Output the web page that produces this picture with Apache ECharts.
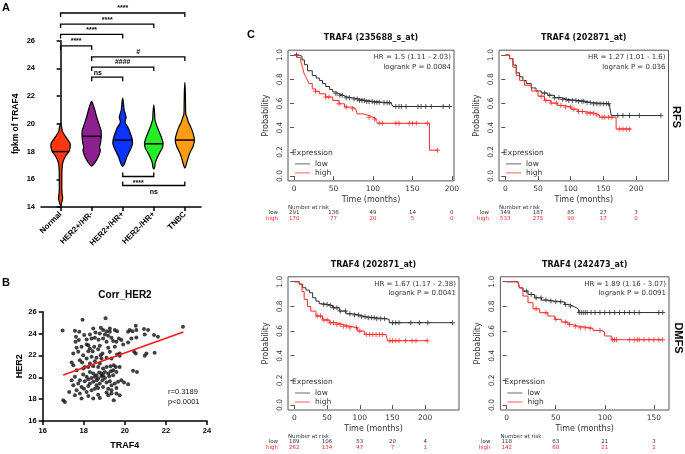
<!DOCTYPE html>
<html>
<head>
<meta charset="utf-8">
<script src="https://cdn.jsdelivr.net/npm/echarts@6/dist/echarts.min.js"></script>
<style>
  html, body { margin: 0; padding: 0; background: #fff; }
  #chart { width: 685px; height: 454px; }
</style>
</head>
<body>
<div id="chart"></div>
<script>
// ---- panel A: violin data (value, relative width) ----
const groups = ['Normal', 'HER2+/HR-', 'HER2+/HR+', 'HER2-/HR+', 'TNBC'];
const violinNormal = [[14.1,0],[14.35,0.13],[14.65,0.22],[15.0,0.15],[15.5,0.13],[16.5,0.14],[17.0,0.18],[17.35,0.3],[17.7,0.55],[18.0,0.88],[18.35,1.0],[18.6,0.98],[18.9,0.7],[19.1,0.5],[19.45,0.2],[19.8,0.1],[20.05,0]];
const violinHer2pHrn = [[16.94,0],[17.1,0.22],[17.4,0.52],[17.77,0.78],[18.1,0.9],[18.3,0.82],[18.6,0.92],[19.1,1.0],[19.5,0.98],[19.8,0.85],[20.2,0.66],[20.55,0.5],[21.0,0.33],[21.3,0.2],[21.62,0]];
const violinHer2pHrp = [[16.94,0],[17.2,0.22],[17.65,0.45],[18.0,0.7],[18.5,1.0],[18.85,1.0],[19.2,0.85],[19.7,0.58],[20.05,0.28],[20.2,0.25],[20.45,0.35],[20.7,0.28],[21.0,0.15],[21.5,0.08],[21.85,0]];
const violinHer2nHrp = [[16.74,0],[16.9,0.1],[17.17,0.15],[17.5,0.32],[17.9,0.6],[18.25,0.88],[18.56,0.97],[18.8,0.9],[19.1,0.75],[19.57,0.48],[19.93,0.28],[20.3,0.12],[20.8,0.08],[21.37,0]];
const violinTnbc = [[16.8,0],[17.0,0.12],[17.4,0.28],[17.9,0.52],[18.37,0.85],[18.83,1.0],[19.33,0.85],[19.8,0.6],[20.1,0.38],[20.4,0.25],[20.7,0.1],[21.5,0.07],[22.3,0.05],[23.0,0]];
const medians = [18.0, 19.1, 18.83, 18.56, 18.83];

// significance brackets
const bracketFrom  = [0, 0, 0, 0, 1, 1, 1, 2, 2];
const bracketTo    = [4, 3, 2, 1, 4, 3, 2, 3, 4];
const bracketLevel = [28.0, 27.2, 26.45, 25.62, 24.83, 24.1, 23.37, 16.2, 15.55];
const bracketLabel = ['****', '****', '****', '****', '#', '####', 'ns', '****', 'ns'];
const bracketTextAt = [2, 1.5, 1, 0.5, 2.5, 2, 1.2, 2.5, 3];
const bracketBelow = [false, false, false, false, false, false, false, true, true];

// ---- panel B: scatter ----
const traf4 = [17.94,19.06,16.97,17.57,17.78,18.46,18.83,18.94,19.11,19.27,19.51,19.62,20.16,20.24,20.37,20.53,20.56,20.93,21.13,21.42,21.61,22.83,
  17.62,18.02,18.30,18.57,18.78,19.03,19.19,19.35,19.71,19.83,20.32,20.56,20.97,17.60,17.76,18.14,18.38,18.54,18.72,19.11,19.43,19.59,20.16,
  17.65,17.89,18.14,18.30,18.51,18.78,19.19,19.51,19.92,17.49,17.73,17.97,18.22,18.43,18.70,18.91,19.27,19.62,19.75,20.45,20.53,20.97,21.05,21.45,
  17.41,17.49,17.81,18.14,18.38,18.62,18.82,19.11,19.35,19.75,17.92,18.30,18.54,18.78,17.65,17.97,18.22,18.46,18.70,18.94,19.11,19.30,19.46,19.56,20.40,20.59,
  17.41,17.57,17.97,18.30,18.46,18.62,18.75,18.86,19.03,19.19,19.32,19.43,19.59,17.49,17.73,18.05,18.22,18.38,18.54,18.70,18.86,19.03,19.24,19.43,19.83,19.96,20.16,
  17.29,17.65,17.89,18.01,18.22,18.30,18.46,18.62,18.78,18.91,19.11,19.27,19.51,19.67,17.57,17.81,18.14,18.38,18.54,18.70,18.94,19.19,19.35,19.59,
  17.89,18.22,18.46,18.70,19.11,19.19,19.35,19.59,17.00,17.08,18.78,19.46,19.75,
  18.14,18.94,17.81,18.62,19.35,18.05,19.75,18.86,18.22,18.94,19.27];
const her2 = [25.26,25.39,24.29,24.26,24.16,24.47,24.53,24.32,24.22,24.16,24.32,24.22,24.16,24.32,24.22,24.71,24.32,24.41,24.32,23.86,23.71,24.62,
  23.71,23.86,23.92,24.10,24.01,23.92,23.80,23.61,23.55,23.40,23.55,23.64,23.92,23.25,23.40,23.46,23.55,23.61,23.43,23.25,23.31,23.25,23.18,
  22.70,22.79,23.00,22.63,22.79,22.88,22.70,22.79,23.00,22.18,22.33,22.02,22.39,22.39,22.57,22.18,22.33,22.08,22.18,22.33,22.18,21.96,22.18,22.24,
  21.35,21.11,21.56,21.72,21.87,21.78,22.02,21.78,21.72,21.96,21.35,21.26,21.47,21.26,20.65,20.80,20.95,21.01,20.95,20.80,20.95,21.01,21.11,20.95,20.59,20.49,
  19.73,20.04,20.25,20.49,20.34,20.19,20.43,20.34,20.49,20.34,20.55,20.65,20.49,19.27,19.42,19.64,19.82,19.94,20.04,19.88,20.10,19.94,20.10,20.19,19.73,19.52,19.36,
  18.66,18.81,19.12,18.96,19.21,19.42,19.58,19.27,19.42,19.73,19.52,19.64,19.42,19.58,18.35,18.51,18.66,18.81,18.96,19.03,19.12,18.96,18.81,19.03,
  18.05,18.29,18.05,18.41,18.60,18.35,18.51,18.51,17.89,17.74,18.11,17.89,18.35,
  20.04,20.19,19.73,19.73,19.27,20.95,20.95,21.72,22.94,23.55,24.47];
const fitX = [17.0, 22.85];
const fitY = [20.2, 24.15];

// ---- panel C: Kaplan-Meier curves [months, probability] ----
const km1Low = [[0,1],[6,0.99],[10,0.96],[13,0.92],[17,0.87],[23,0.83],[28,0.81],[32,0.79],[36,0.765],[40,0.74],[45,0.715],[49,0.695],[53,0.68],[57,0.667],[62,0.655],[66,0.647],[74,0.636],[83,0.625],[91,0.617],[100,0.61],[112,0.605],[123,0.597],[125,0.575],[197,0.575]];
const km1High = [[0,1],[4,0.98],[8.5,0.944],[10.6,0.9],[12.5,0.85],[14.8,0.82],[17,0.79],[19,0.764],[23,0.72],[27,0.7],[32,0.68],[40,0.653],[49,0.625],[57,0.597],[64,0.57],[74,0.556],[78,0.54],[80,0.514],[87,0.5],[95,0.486],[100,0.472],[104,0.453],[106,0.436],[171.6,0.214],[182,0.214]];
const km1LowCens = [3,53,58,61,66,70,76,80,83,86,89,92,95,99,102,105,108,114,118,121,129,133,136,142,157,161,167,174,189,197];
const km1HighCens = [27,40,44,57,66,74,95,102,108,112,129,133,146,150,155,169,182];

const km2Low = [[0,1],[6.6,0.97],[11.7,0.917],[16.8,0.853],[21.9,0.82],[27,0.79],[32,0.764],[39.7,0.728],[47,0.703],[55,0.686],[65,0.667],[75,0.647],[85.5,0.633],[95.7,0.625],[111,0.619],[121,0.608],[131,0.597],[159,0.592],[162,0.5],[238,0.5]];
const km2High = [[0,1],[6.6,0.97],[11.7,0.9],[16.8,0.83],[22,0.79],[29.5,0.75],[40,0.703],[50,0.66],[60,0.625],[70,0.603],[80,0.583],[90.6,0.57],[100.8,0.553],[111,0.533],[121,0.52],[136,0.505],[144,0.486],[169.5,0.389],[192,0.389]];
const km2LowCens = [60,68,75,82,88,93,97,103,108,112,117,120,125,130,135,140,145,150,155,158,172,180,190,205,238];
const km2HighCens = [55,62,70,78,85,92,100,105,112,118,125,130,135,140,148,152,158,163,175,180,185,190];

const km3Low = [[0,1],[7.6,0.98],[12.7,0.951],[17.8,0.932],[23,0.911],[28,0.87],[33,0.843],[38,0.822],[43,0.816],[51,0.808],[58.5,0.789],[68.7,0.762],[79,0.74],[89,0.73],[99,0.716],[109,0.708],[124.7,0.7],[140,0.695],[145,0.668],[242,0.668]];
const km3High = [[0,1],[7.6,0.98],[11.7,0.92],[15,0.857],[20,0.8],[25,0.762],[33,0.722],[43,0.69],[53.4,0.668],[63.6,0.654],[73.8,0.64],[84,0.627],[96.7,0.6],[107,0.573],[140,0.565],[142.5,0.522],[203.6,0.522]];
const km3LowCens = [45,50,55,60,65,70,78,85,92,98,103,108,113,118,122,126,132,138,150,155,160,178,191,204,242];
const km3HighCens = [35,40,45,50,55,60,65,70,75,80,85,95,100,110,115,120,125,130,135,146,150,155,160,170,180,186,203];

const km4Low = [[0,1],[11.5,0.99],[13,0.95],[16.6,0.924],[21.7,0.897],[28.5,0.87],[35.3,0.851],[42,0.843],[49,0.838],[55.7,0.835],[59,0.816],[64,0.803],[67.5,0.789],[71,0.776],[73.3,0.75],[159,0.75]];
const km4High = [[0,1],[11.5,0.99],[13,0.95],[16.6,0.884],[21.7,0.83],[26.8,0.78],[33.6,0.749],[42,0.722],[49,0.695],[55.7,0.673],[62.5,0.654],[66,0.64],[72.6,0.627],[84.5,0.622],[88,0.605],[96.4,0.592],[99.8,0.56],[106.6,0.53],[159,0.53]];
const km4LowCens = [20,25,30,35,40,45,50,55,60,65,74,76,78,80,82,86,90,95,100,105,110,115,120,125,130,135,155,159];
const km4HighCens = [30,40,50,60,64,70,75,80,85,95,108,110,112,125,130,133,135,140,145,150,155,159];

// number at risk
const riskTimes1 = [0, 50, 100, 150, 200];
const riskLow1 = [291, 136, 49, 14, 0];
const riskHigh1 = [170, 77, 20, 5, 0];
const riskTimes2 = [0, 50, 100, 150, 200];
const riskLow2 = [349, 187, 85, 27, 3];
const riskHigh2 = [533, 275, 90, 17, 0];
const riskTimes3 = [0, 50, 100, 150, 200];
const riskLow3 = [189, 106, 53, 20, 4];
const riskHigh3 = [262, 134, 47, 7, 1];
const riskTimes4 = [0, 50, 100, 150];
const riskLow4 = [118, 63, 21, 3];
const riskHigh4 = [142, 68, 21, 2];

const kmTitles = ['TRAF4 (235688_s_at)', 'TRAF4 (202871_at)', 'TRAF4 (202871_at)', 'TRAF4 (242473_at)'];
const kmHR = ['HR = 1.5 (1.11 - 2.03)', 'HR = 1.27 (1.01 - 1.6)', 'HR = 1.67 (1.17 - 2.38)', 'HR = 1.89 (1.16 - 3.07)'];
const kmP = ['logrank P = 0.0084', 'logrank P = 0.036', 'logrank P = 0.0041', 'logrank P = 0.0091'];

// ---------------------------------------------------------------
const chart = echarts.init(document.getElementById('chart'));
const AF = 'Liberation Sans';
const CF = 'DejaVu Sans';

const violinProfiles = [violinNormal, violinHer2pHrn, violinHer2pHrp, violinHer2nHrp, violinTnbc];
const violinColors = ['#ff3812', '#8e1f8e', '#0b35ff', '#26ee26', '#ff9c14'];
const halfW = 0.31;

function widthAt(prof, v) {
  for (let i = 1; i < prof.length; i++) {
    if (v <= prof[i][0]) {
      const t = (v - prof[i - 1][0]) / (prof[i][0] - prof[i - 1][0]);
      return prof[i - 1][1] + t * (prof[i][1] - prof[i - 1][1]);
    }
  }
  return 0;
}

// value of a step curve at time t
function survAt(curve, t) {
  let s = curve[0][1];
  for (const p of curve) { if (p[0] <= t) s = p[1]; }
  return s;
}

const kmCurves = [[km1Low, km1High], [km2Low, km2High], [km3Low, km3High], [km4Low, km4High]];
const kmCens = [[km1LowCens, km1HighCens], [km2LowCens, km2HighCens], [km3LowCens, km3HighCens], [km4LowCens, km4HighCens]];
const kmRisk = [[riskTimes1, riskLow1, riskHigh1], [riskTimes2, riskLow2, riskHigh2], [riskTimes3, riskLow3, riskHigh3], [riskTimes4, riskLow4, riskHigh4]];

// KM panel boxes
const kmBox = [
  { left: 288, top: 50.2, width: 166, height: 130.7, min: -7.8, max: 202.8 },
  { left: 499, top: 50.2, width: 169.5, height: 130.7, min: -9.6, max: 249.6 },
  { left: 288, top: 276.8, width: 171, height: 133.2, min: -9.7, max: 251.7 },
  { left: 500.4, top: 276.8, width: 168.6, height: 133.2, min: -6.4, max: 165.4 }
];
const lowColor = '#2e2e2e';
const highColor = '#ff2a2a';
const plusSymbol = 'path://M4,0H6V4H10V6H6V10H4V6H0V4H4Z';

const grids = [
  { left: 41, top: 40.7, width: 160, height: 166.3 },
  { left: 42.7, top: 311.7, width: 164.3, height: 109.3 }
];
const xAxes = [
  {
    gridIndex: 0, type: 'value', min: -0.63, max: 4.52,
    axisLine: { lineStyle: { color: '#000', width: 1.5 } },
    axisTick: { customValues: [0, 1, 2, 3, 4], length: 4, lineStyle: { color: '#000', width: 1.5 } },
    axisLabel: {
      customValues: [0, 1, 2, 3, 4], rotate: 45, margin: 6,
      formatter: v => groups[Math.round(v)],
      fontFamily: AF, fontWeight: 'bold', fontSize: 8, color: '#000'
    },
    splitLine: { show: false }
  },
  {
    gridIndex: 1, type: 'value', min: 16, max: 24, interval: 2,
    name: 'TRAF4', nameLocation: 'middle', nameGap: 20,
    nameTextStyle: { fontFamily: AF, fontWeight: 'bold', fontSize: 9, color: '#000' },
    axisLine: { lineStyle: { color: '#000', width: 1.5 } },
    axisTick: { length: 4, lineStyle: { color: '#000', width: 1.5 } },
    axisLabel: { margin: 6, fontFamily: AF, fontWeight: 'bold', fontSize: 7.5, color: '#000' },
    splitLine: { show: false }
  }
];
const yAxes = [
  {
    gridIndex: 0, type: 'value', min: 14, max: 26, interval: 2,
    name: 'fpkm of TRAF4', nameLocation: 'middle', nameGap: 21,
    nameTextStyle: { fontFamily: AF, fontWeight: 'bold', fontSize: 8.5, color: '#000' },
    axisLine: { show: true, lineStyle: { color: '#000', width: 1.5 } },
    axisTick: { show: true, length: 4, lineStyle: { color: '#000', width: 1.5 } },
    axisLabel: { margin: 6, fontFamily: AF, fontWeight: 'bold', fontSize: 7.5, color: '#000' },
    splitLine: { show: false }
  },
  {
    gridIndex: 1, type: 'value', min: 16, max: 26, interval: 2,
    name: 'HER2', nameLocation: 'middle', nameGap: 15,
    nameTextStyle: { fontFamily: AF, fontWeight: 'bold', fontSize: 9, color: '#000' },
    axisLine: { show: true, lineStyle: { color: '#000', width: 1.5 } },
    axisTick: { show: true, length: 4, lineStyle: { color: '#000', width: 1.5 } },
    axisLabel: { margin: 6, fontFamily: AF, fontWeight: 'bold', fontSize: 7.5, color: '#000' },
    splitLine: { show: false }
  }
];

const series = [
  {
    type: 'custom', name: 'violins', xAxisIndex: 0, yAxisIndex: 0,
    data: groups.map((g, i) => [i, medians[i]]),
    renderItem: function (params, api) {
      const i = api.value(0);
      const prof = violinProfiles[i];
      const right = prof.map(p => api.coord([i + p[1] * halfW, p[0]]));
      const left = prof.slice(1, -1).reverse().map(p => api.coord([i - p[1] * halfW, p[0]]));
      const w = widthAt(prof, medians[i]) * halfW;
      const m1 = api.coord([i - w, medians[i]]);
      const m2 = api.coord([i + w, medians[i]]);
      return {
        type: 'group',
        children: [
          { type: 'polygon', shape: { points: right.concat(left), smooth: 0.25 },
            style: { fill: violinColors[i], stroke: '#000', lineWidth: 1.2 } },
          { type: 'line', shape: { x1: m1[0], y1: m1[1], x2: m2[0], y2: m2[1] },
            style: { stroke: '#000', lineWidth: 1.5 } }
        ]
      };
    }
  },
  {
    type: 'custom', name: 'brackets', xAxisIndex: 0, yAxisIndex: 0, clip: false,
    data: bracketLevel.map((v, k) => [bracketTextAt[k], v]),
    renderItem: function (params, api) {
      const k = params.dataIndex;
      const p1 = api.coord([bracketFrom[k], bracketLevel[k]]);
      const p2 = api.coord([bracketTo[k], bracketLevel[k]]);
      const tp = api.coord([bracketTextAt[k], bracketLevel[k]]);
      const below = bracketBelow[k];
      const tick = below ? -4 : 4;
      return {
        type: 'group',
        children: [
          { type: 'polyline', shape: { points: [[p1[0], p1[1] + tick], p1, p2, [p2[0], p2[1] + tick]] },
            style: { stroke: '#000', lineWidth: 1.3, fill: null } },
          { type: 'text', style: { text: bracketLabel[k], x: tp[0], y: below ? tp[1] + 3 : tp[1] - 1,
            align: 'center', verticalAlign: below ? 'top' : 'bottom',
            font: 'bold 7px "Liberation Sans"', fill: '#000' } }
        ]
      };
    }
  },
  {
    type: 'scatter', name: 'points', xAxisIndex: 1, yAxisIndex: 1,
    data: traf4.map((x, i) => [x, her2[i]]),
    symbolSize: 4, itemStyle: { color: '#111' }
  },
  {
    type: 'line', name: 'fit', xAxisIndex: 1, yAxisIndex: 1,
    data: fitX.map((x, i) => [x, fitY[i]]),
    showSymbol: false, lineStyle: { color: '#ff1a1a', width: 1.6 }, itemStyle: { color: '#ff1a1a' }
  }
];

const legends = [];
const graphics = [];

function txt(text, x, y, font, opts) {
  const o = Object.assign({ align: 'center', verticalAlign: 'middle', fill: '#222', rotation: 0 }, opts || {});
  graphics.push({ type: 'text', x: x, y: y, rotation: o.rotation,
    style: { text: text, font: font, fill: o.fill, align: o.align, verticalAlign: o.verticalAlign } });
}

kmBox.forEach((b, k) => {
  const g = grids.length;
  grids.push({ left: b.left, top: b.top, width: b.width, height: b.height, show: true,
    borderColor: '#555', borderWidth: 1, backgroundColor: 'transparent' });
  const times = kmRisk[k][0];
  const xi = xAxes.length;
  xAxes.push({
    gridIndex: g, type: 'value', min: b.min, max: b.max,
    name: 'Time (months)', nameLocation: 'middle', nameGap: 15,
    nameTextStyle: { fontFamily: CF, fontSize: 8, color: '#333' },
    axisLine: { show: false },
    axisTick: { show: true, customValues: times, length: 4, lineStyle: { color: '#555' } },
    axisLabel: { customValues: times, margin: 4, fontFamily: CF, fontSize: 7.5, color: '#333' },
    splitLine: { show: false }
  });
  [1, 2].forEach(r => {
    xAxes.push({
      gridIndex: g, type: 'value', min: b.min, max: b.max, position: 'bottom', offset: r === 1 ? 29 : 35,
      axisLine: { show: false }, axisTick: { show: false }, splitLine: { show: false },
      axisLabel: { customValues: times, margin: 0, fontFamily: CF, fontSize: 5.5,
        color: r === 1 ? '#333' : highColor,
        formatter: v => String(kmRisk[k][r][times.indexOf(v)]) }
    });
  });
  yAxes.push({
    gridIndex: g, type: 'value', min: -0.04, max: 1.04,
    name: 'Probability', nameLocation: 'middle', nameGap: 18,
    nameTextStyle: { fontFamily: CF, fontSize: 8, color: '#333' },
    axisLine: { show: false },
    axisTick: { show: true, customValues: [0, 0.2, 0.4, 0.6, 0.8, 1], length: 4, lineStyle: { color: '#555' } },
    axisLabel: { customValues: [0, 0.2, 0.4, 0.6, 0.8, 1], rotate: 90, margin: 4,
      formatter: v => v.toFixed(1), fontFamily: CF, fontSize: 7.5, color: '#333' },
    splitLine: { show: false }
  });
  const yi = yAxes.length - 1;
  const names = ['low', 'high'];
  const colors = [lowColor, highColor];
  [0, 1].forEach(j => {
    const curve = kmCurves[k][j];
    series.push({
      type: 'line', name: names[j], xAxisIndex: xi, yAxisIndex: yi, step: 'end',
      data: curve, showSymbol: false, lineStyle: { color: colors[j], width: 1 },
      itemStyle: { color: colors[j] }
    });
    series.push({
      type: 'scatter', name: names[j] + ' censored', xAxisIndex: xi, yAxisIndex: yi,
      data: kmCens[k][j].map(t => [t, survAt(curve, t)]),
      symbol: plusSymbol, symbolSize: 5, itemStyle: { color: colors[j] }
    });
  });
  const bottom = b.top + b.height;
  const right = b.left + b.width;
  legends.push({
    orient: 'vertical', left: b.left + 7, top: bottom - 21.5, padding: 0, selectedMode: false,
    icon: 'rect', itemWidth: 15, itemHeight: 1, itemGap: 0,
    textStyle: { fontFamily: CF, fontSize: 7.5, color: '#333', lineHeight: 9 },
    data: [{ name: 'low', itemStyle: { color: '#666' } }, { name: 'high', itemStyle: { color: '#ff5a5a' } }]
  });
  txt(kmTitles[k], b.left + b.width / 2, b.top - 12, 'bold 8px "DejaVu Sans"', { fill: '#111' });
  txt(kmHR[k], right - 3, b.top + 7, '7px "DejaVu Sans"', { align: 'right', fill: '#333' });
  txt(kmP[k], right - 3, b.top + 16.5, '7px "DejaVu Sans"', { align: 'right', fill: '#333' });
  txt('Expression', b.left + 4, bottom - 28, '7.5px "DejaVu Sans"', { align: 'left', fill: '#333' });
  txt('Number at risk', b.left, bottom + 27, '5.5px "DejaVu Sans"', { align: 'left', fill: '#333' });
  txt('low', b.left - 10, bottom + 32, '5.5px "DejaVu Sans"', { align: 'right', fill: '#333' });
  txt('high', b.left - 10, bottom + 38, '5.5px "DejaVu Sans"', { align: 'right', fill: highColor });
});

// panel letters and labels
txt('A', 2, 8, 'bold 11px "Liberation Sans"', { align: 'left', fill: '#000' });
txt('B', 2, 283, 'bold 11px "Liberation Sans"', { align: 'left', fill: '#000' });
txt('C', 247, 35, 'bold 11px "Liberation Sans"', { align: 'left', fill: '#000' });
txt('Corr_HER2', 125, 295, 'bold 10px "Liberation Sans"', { fill: '#000' });
txt('r=0.3189', 168, 392, '7.5px "Liberation Sans"', { align: 'left', fill: '#111' });
txt('p<0.0001', 168, 402, '7.5px "Liberation Sans"', { align: 'left', fill: '#111' });
txt('RFS', 676, 117, 'bold 11px "Liberation Sans"', { fill: '#000', rotation: -Math.PI / 2 });
txt('DMFS', 678, 338, 'bold 11px "Liberation Sans"', { fill: '#000', rotation: -Math.PI / 2 });

chart.setOption({
  backgroundColor: '#fff',
  animation: false,
  grid: grids,
  xAxis: xAxes,
  yAxis: yAxes,
  legend: legends,
  series: series,
  graphic: graphics
});
</script>
</body>
</html>
